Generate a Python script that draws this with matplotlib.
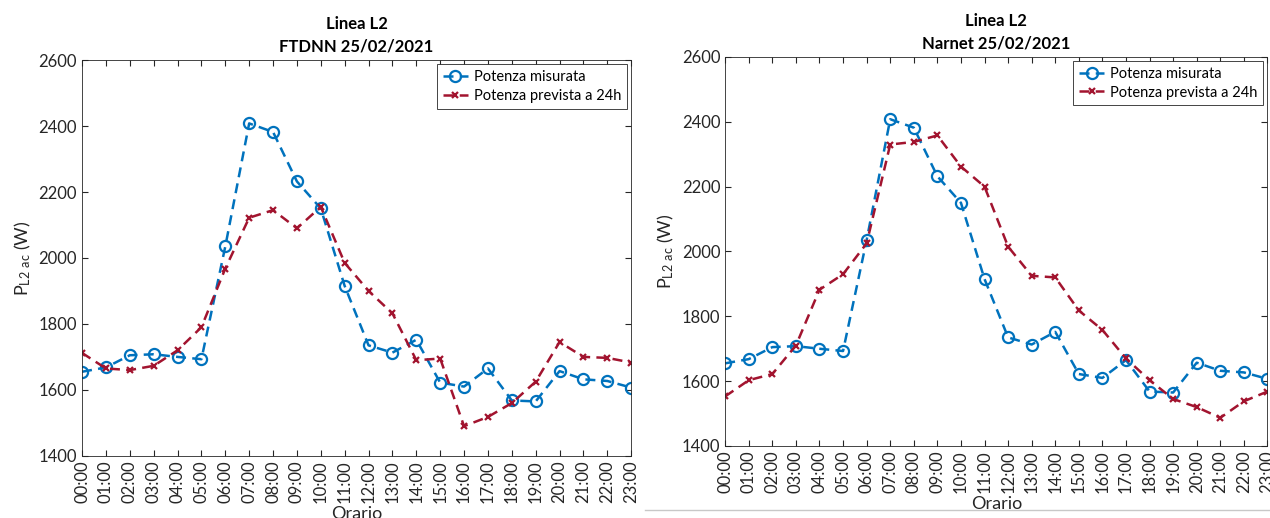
import matplotlib.pyplot as plt
from matplotlib.lines import Line2D

plt.rcParams['font.family'] = ['Lato', 'DejaVu Sans']

# hourly labels
ore = ['%02d:00' % h for h in range(24)]

# measured power (same in both panels)
misurata = [1655, 1668, 1705, 1708, 1700, 1693, 2035, 2408, 2382, 2232, 2150, 1915,
            1735, 1713, 1752, 1622, 1610, 1665, 1568, 1565, 1657, 1632, 1627, 1607]

# 24h forecast, FTDNN
prev_ftdnn = [1712, 1665, 1660, 1673, 1720, 1790, 1968, 2122, 2145, 2090, 2155, 1985,
              1900, 1832, 1690, 1695, 1490, 1518, 1560, 1625, 1745, 1700, 1697, 1683]

# 24h forecast, Narnet
prev_narnet = [1553, 1603, 1622, 1710, 1882, 1930, 2025, 2330, 2338, 2358, 2262, 2200,
               2015, 1925, 1920, 1818, 1758, 1670, 1603, 1545, 1520, 1487, 1538, 1568]

titoli = ['Linea L2\nFTDNN 25/02/2021', 'Linea L2\nNarnet 25/02/2021']

blu = '#0072BD'
rosso = '#A2142F'

fig = plt.figure(figsize=(12.7, 5.18), dpi=100)
ax1 = fig.add_axes([0.0646, 0.120, 0.4324, 0.764])
ax2 = fig.add_axes([0.571, 0.139, 0.427, 0.751])

for ax, prev, titolo in [(ax1, prev_ftdnn, titoli[0]), (ax2, prev_narnet, titoli[1])]:
    x = list(range(len(ore)))
    ax.plot(x, misurata, '--', color=blu, lw=1.8, marker='o', ms=8,
            mfc='none', mew=1.6, dashes=(4, 2.5), label='Potenza misurata')
    ax.plot(x, prev, '--', color=rosso, lw=1.8, marker='x', ms=5,
            mew=1.6, dashes=(4, 2.5), label='Potenza prevista a 24h')
    ax.set_xlim(0, 23)
    ax.set_ylim(1400, 2600)
    ax.set_yticks(range(1400, 2601, 200))
    ax.set_xticks(x)
    ax.set_xticklabels(ore, rotation=90)
    ax.tick_params(direction='in', top=True, right=True, labelsize=12,
                   colors='#262626', length=4)
    for s in ax.spines.values():
        s.set_color('#262626')
        s.set_linewidth(0.6)
    ax.set_title(titolo, fontsize=12, fontweight='bold', linespacing=1.5)
    ax.set_xlabel('Orario', fontsize=13, color='#262626', labelpad=2)
    ax.set_ylabel(r'$\mathregular{P_{L2\ ac}}$ (W)', fontsize=13, color='#262626')
    leg = ax.legend(loc='upper right', fontsize=10.5, fancybox=False, framealpha=1,
                    edgecolor='#262626', handlelength=1.7, handletextpad=0.4,
                    borderaxespad=0.3, labelspacing=0.3)
    leg.get_frame().set_linewidth(0.6)

# thin frame line at the bottom of the right image
fig.add_artist(Line2D([0.508, 1.0], [0.015, 0.015], color='#c8c8c8', lw=1))

fig.savefig('out.png', dpi=100)
